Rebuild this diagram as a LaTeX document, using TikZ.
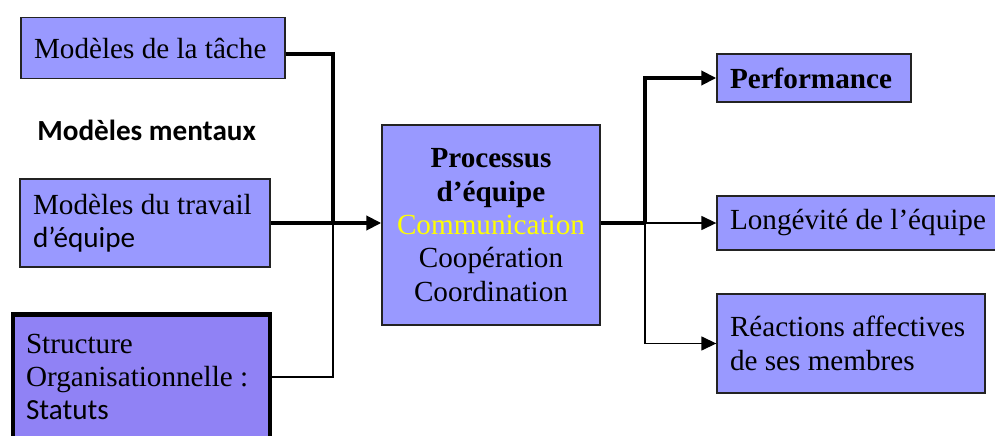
\documentclass[tikz,border=0pt]{standalone}
\usepackage{fontspec}
\setmainfont{Liberation Serif}
\newfontfamily\calib{Carlito}
\usetikzlibrary{arrows.meta}
\definecolor{boxblue}{RGB}{153,153,255}
\definecolor{structblue}{RGB}{144,130,245}
\definecolor{linegray}{RGB}{35,35,35}
\definecolor{commyellow}{RGB}{255,255,0}

\begin{document}
\begin{tikzpicture}[x=0.02cm, y=-0.02cm,
    box/.style={draw=linegray, line width=0.8pt, fill=boxblue, inner xsep=0.26cm, inner ysep=0pt,
                align=flush left, font=\fontsize{16.6}{19}\selectfont},
    thickline/.style={line width=2.8pt},
    thinline/.style={line width=0.8pt},
    tip/.style={-{Triangle[length=0.3cm,width=0.28cm]}}]
\useasboundingbox (0,0) rectangle (995,436);
\clip (0,0) rectangle (995,436);

% inputs
\node[box, minimum width=5.28cm, minimum height=1.22cm, text width=4.76cm] (tache) at (153,48) {Modèles de la tâche};
\node[anchor=west, inner sep=0pt, font=\calib\bfseries\fontsize{16.6}{19}\selectfont] (mentaux) at (37,130) {Modèles mentaux};
\node[box, minimum width=5.0cm, minimum height=1.76cm, text width=4.48cm] (travail) at (145,223) {Modèles du travail\\{\calib d’équipe}};
\node[box, draw=black, line width=2.8pt, fill=structblue, minimum width=5.14cm, minimum height=2.5cm, text width=4.62cm] (structure) at (141.5,377) {Structure\\Organisationnelle~:\\{\calib Statuts}};

% process
\node[box, align=center, minimum width=4.36cm, minimum height=4.0cm, text width=3.84cm] (processus) at (491,225)
  {\textbf{Processus}\\\textbf{d’équipe}\\\textcolor{commyellow}{Communication}\\Coopération\\Coordination};

% outputs
\node[box, minimum width=3.88cm, minimum height=0.96cm, text width=3.36cm] (perf) at (814,78) {\textbf{Performance}};
\node[box, minimum width=5.84cm, minimum height=1.08cm, text width=5.32cm] (longevite) at (863,223) {Longévité de l’équipe};
\node[box, minimum width=5.36cm, minimum height=1.98cm, text width=4.84cm] (reactions) at (851,343.5) {Réactions affectives\\de ses membres};

\coordinate (jin) at (333,223);
\coordinate (jout) at (645,223);

% left side
\draw[thickline] ([yshift=-0.12cm]tache.east) -| (jin);
\draw[thinline] (structure.east) -| (jin);
\draw[thickline, tip] (travail.east) -- (travail.east -| processus.west);

% right side
\draw[thickline] (jout -| processus.east) -- (jout);
\draw[thickline, tip] (jout) |- (perf.west);
\draw[thinline, tip] (jout) -- (longevite.west);
\draw[thinline, tip] (jout) |- (reactions.west);
\end{tikzpicture}
\end{document}
